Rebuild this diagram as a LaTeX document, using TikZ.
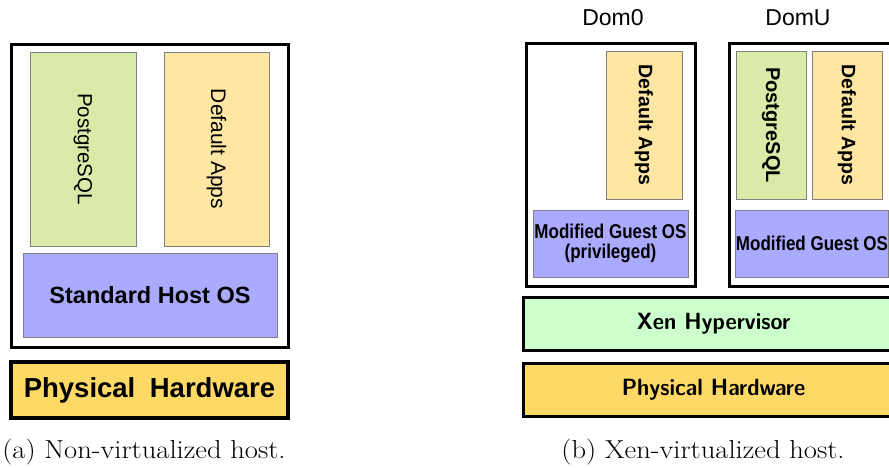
\documentclass[tikz,border=0pt]{standalone}
\usepackage{fontspec}
\newfontfamily\arial{Liberation Sans}
\usetikzlibrary{positioning}
\definecolor{pgcol}{RGB}{218,234,168}
\definecolor{appcol}{RGB}{255,231,163}
\definecolor{oscol}{RGB}{170,170,255}
\definecolor{xencol}{RGB}{204,255,204}
\definecolor{hwcol}{RGB}{255,217,102}
\newcommand{\boxfont}[1]{\fontsize{#1}{#1}\selectfont}
\newcommand{\narrowtext}[1]{\scalebox{0.85}[1]{\arial\bfseries\boxfont{20}#1}}
\newcommand{\layertext}[1]{\scalebox{0.93}[1]{\sffamily\bfseries\boxfont{23.5}#1}}
\tikzstyle{inbox}=[draw=black!50,line width=1pt,inner sep=0pt,align=center]
\tikzstyle{hostbox}=[draw=black,line width=3pt,inner sep=0pt]
\tikzstyle{layer}=[draw=black,line width=3.5pt,inner sep=0pt,fill=hwcol]
\tikzstyle{caption}=[inner sep=0pt]

\begin{document}
\begin{tikzpicture}[x=1pt,y=-1pt]
\useasboundingbox (0,0) rectangle (889,467);
\clip (0,0) rectangle (889,467);
% (a) non-virtualized host
\node [hostbox, minimum width=277pt, minimum height=303pt] (hostA) at (149.5,195.5) {};
\node [inbox, fill=pgcol, minimum width=106pt, minimum height=194pt] (pgA) at (83,149)
    {\rotatebox{-90}{\arial\boxfont{20.5}PostgreSQL}};
\node [inbox, fill=appcol, minimum width=105pt, minimum height=194pt] (appA) at (216.5,149)
    {\rotatebox{-90}{\arial\boxfont{21}Default Apps}};
\node [inbox, fill=oscol, minimum width=254pt, minimum height=84pt] (osA) at (150,295)
    {\arial\bfseries\boxfont{23.5}Standard Host OS};
\node [layer, minimum width=277pt, minimum height=56pt] (hwA) at (149.5,390)
    {\arial\bfseries\boxfont{27.5}Physical\hspace{0.25em} Hardware};
\node [caption] (capA) at (144,452)
    {\scalebox{1.1}[1]{\boxfont{26}(a) Non-virtualized host.}};
% (b) Xen-virtualized host
\node [hostbox, minimum width=169pt, minimum height=243pt] (dom0) at (610.5,164.5) {};
\node [inbox, fill=appcol, minimum width=76pt, minimum height=148pt] (appD0) at (644,125)
    {\rotatebox{-90}{\arial\bfseries\boxfont{19.5}Default Apps}};
\node [inbox, fill=oscol, minimum width=155pt, minimum height=67pt] (osD0) at (610.5,243.5)
    {\narrowtext{Modified Guest OS}\\[5pt]\narrowtext{(privileged)}};
\node (labD0) at (613,18) {\arial\boxfont{23}Dom0};
\node [hostbox, minimum width=175pt, minimum height=243pt] (domU) at (816.5,164.5) {};
\node [inbox, fill=pgcol, minimum width=70pt, minimum height=148pt] (pgU) at (771,125)
    {\rotatebox{-90}{\arial\bfseries\boxfont{20}PostgreSQL}};
\node [inbox, fill=appcol, minimum width=70pt, minimum height=148pt] (appU) at (847,125)
    {\rotatebox{-90}{\arial\bfseries\boxfont{19.5}Default Apps}};
\node [inbox, fill=oscol, minimum width=152pt, minimum height=67pt] (osU) at (812,243.5)
    {\narrowtext{Modified Guest OS}};
\node (labU) at (798,18) {\arial\boxfont{23}DomU};
\node [layer, fill=xencol, minimum width=380pt, minimum height=53pt] (xen) at (713.5,324)
    {\layertext{Xen Hypervisor}};
\node [layer, minimum width=380pt, minimum height=53pt] (hwB) at (713.5,390)
    {\layertext{Physical Hardware}};
\node [caption] (capB) at (703,452)
    {\scalebox{1.1}[1]{\boxfont{26}(b) Xen-virtualized host.}};
\end{tikzpicture}
\end{document}
